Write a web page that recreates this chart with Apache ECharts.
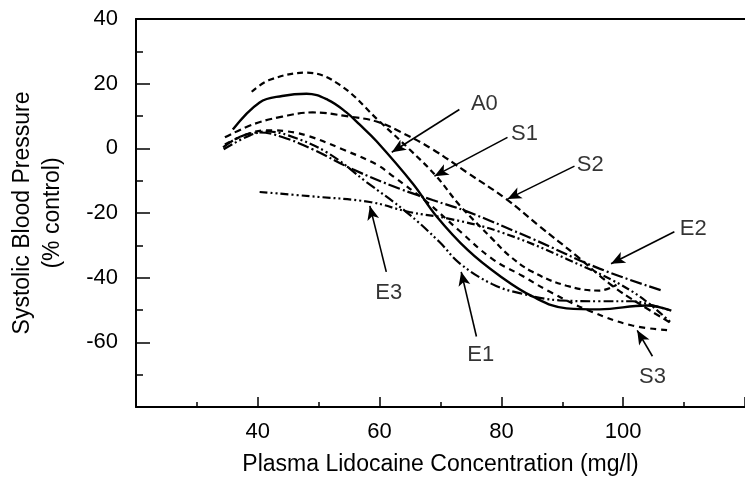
<!DOCTYPE html>
<html><head><meta charset="utf-8">
<script src="https://cdn.jsdelivr.net/npm/echarts@6/dist/echarts.min.js"></script>
<style>html,body{margin:0;padding:0;background:#fff}#c{width:745px;height:481px}</style>
</head><body><div id="c"></div>
<script>
// Curves: [plasma lidocaine mg/l, systolic BP % control]
const A0 = [[35.9,5.8],[40.3,14.2],[44,16.2],[48,16.9],[51.5,15],[54.5,11.2],[56.7,7.4],[59.5,2.2],[65.5,-11],[69.3,-20.9],[74.5,-31.5],[79.7,-39.4],[85.1,-45.8],[90.7,-49.5],[96.1,-49.8],[103.8,-48.6],[107.9,-50.2]];
const S1 = [[39.0,17.5],[42.0,21.2],[48,23.4],[53.4,19.7],[60,8.3],[64.9,-0.3],[69.3,-8.6],[73.1,-17.5],[78.5,-28],[81.3,-33.2],[85.1,-38.2],[90.7,-42.5],[96.1,-44],[98.9,-42.2]];
const S2 = [[34.6,3.4],[39.2,7.4],[44,9.8],[49,11.1],[55.1,9.8],[59.5,8.3],[63.3,5.2],[68.7,-0.3],[74.3,-7.4],[80.8,-15.7],[86.2,-24],[92.3,-33.2],[98.2,-42.5],[103,-48.5],[108,-54.2]];
const S3 = [[34.6,1.2],[38,4.2],[41.5,5.6],[45,5.2],[48.5,3.7],[53.9,-0.3],[59.5,-5],[62.1,-8.5],[67.7,-16.5],[73.1,-25.5],[78.5,-34.2],[83.4,-39.4],[87.9,-44.3],[94.4,-50.2],[101.5,-54.8],[107.9,-56.3]];
const E1 = [[34.4,-0.3],[38.7,4],[41.5,5.2],[45,4],[51.3,-1.2],[57.9,-10.5],[64.4,-19.7],[69.8,-28.9],[73.1,-35.5],[78.5,-42],[83,-44.8],[89.5,-47],[96.1,-47.3],[101.5,-47.3],[104.3,-48.3],[107.9,-50.2]];
const E2 = [[34.3,0.3],[37,3.5],[40.3,4.9],[44,3.5],[49,-0.3],[55.6,-6.5],[63.3,-12.5],[68.7,-16],[74.3,-19.5],[85.1,-28],[96.1,-37.2],[106.4,-44]];
const E3 = [[40.3,-13.5],[48.5,-14.8],[58.4,-16.6],[64.9,-19.7],[71.5,-21.8],[79.7,-25.8],[90.7,-34.2],[101.5,-44.3],[108,-54.2]];

// Annotation labels and arrows (data units)
const labelNames = ['A0','S1','S2','E2','E3','E1','S3'];
const labelPos = [[77.2,13.8],[83.8,4.3],[94.6,-5.2],[111.5,-24.9],[61.5,-44.6],[76.6,-64],[104.8,-70.8]];
const arrowFrom = [[73.1,12.0],[81.0,3.4],[92.0,-5.5],[108.4,-25.8],[61.1,-38.2],[75.9,-58.2],[104.8,-64.3]];
const arrowTo = [[62.0,-1.2],[69.0,-8.6],[81.0,-15.7],[98.0,-35.7],[58.4,-17.8],[73.4,-38.2],[102.3,-56.3]];

const xTitle = 'Plasma Lidocaine Concentration (mg/l)';
const yTitle = 'Systolic Blood Pressure\n(% control)';

const font = "'Liberation Sans', Arial, Helvetica, sans-serif";
const chart = echarts.init(document.getElementById('c'), null, {renderer:'canvas'});

function curve(name, data, dash, w) {
  return {name, type:'line', data, smooth:0.4, symbol:'none', silent:true,
    lineStyle:{color:'#000', width:w||2.2, type:dash}, z:3};
}

const tickStyle = {color:'#000', width:1.5};
chart.setOption({
  animation:false,
  backgroundColor:'#fff',
  grid:{left:136, top:19, width:610, height:389, containLabel:false},
  xAxis:[{
    type:'value', min:20, max:120, interval:20, position:'bottom',
    axisLine:{onZero:false, lineStyle:{color:'#000', width:2}},
    axisTick:{inside:true, length:10, lineStyle:tickStyle},
    minorTick:{show:true, splitNumber:2, length:5, lineStyle:tickStyle},
    splitLine:{show:false}, minorSplitLine:{show:false},
    axisLabel:{color:'#000', fontSize:22, fontFamily:font, margin:14, showMinLabel:false, showMaxLabel:false},
    name:xTitle, nameLocation:'middle', nameGap:46,
    nameTextStyle:{color:'#000', fontSize:23, fontFamily:font}
  },{
    type:'value', min:20, max:120, position:'top',
    axisLine:{show:true, onZero:false, lineStyle:{color:'#000', width:2}},
    axisTick:{show:false}, axisLabel:{show:false}, splitLine:{show:false}
  }],
  yAxis:{
    type:'value', min:-80, max:40, interval:20,
    axisLine:{show:true, onZero:false, lineStyle:{color:'#000', width:2}},
    axisTick:{show:true, inside:true, length:14, lineStyle:tickStyle},
    minorTick:{show:true, splitNumber:2, length:7, lineStyle:tickStyle},
    splitLine:{show:false}, minorSplitLine:{show:false},
    axisLabel:{color:'#000', fontSize:22, fontFamily:font, margin:18, showMinLabel:false},
    name:yTitle, nameLocation:'middle', nameRotate:90, nameGap:68,
    nameTextStyle:{color:'#000', fontSize:23, fontFamily:font, lineHeight:30}
  },
  series:[
    curve('A0', A0, 'solid', 2.4),
    curve('S1', S1, [6,4]),
    curve('S2', S2, [7,4]),
    curve('S3', S3, [6,5]),
    curve('E1', E1, [10,3,2,3,2,3]),
    curve('E2', E2, [12,3,2,3]),
    curve('E3', E3, [8,3,2,3,2,3]),
    {
      type:'scatter', silent:true, symbolSize:1, itemStyle:{color:'rgba(0,0,0,0)'},
      data: labelNames.map((n,i)=>({name:n, value:labelPos[i]})),
      label:{show:true, position:'inside', formatter:'{b}', color:'#000', fontSize:22, fontFamily:font},
      markLine:{
        silent:true, symbol:['none','arrow'], symbolSize:[9,14],
        lineStyle:{color:'#000', width:1.6, type:'solid'}, label:{show:false},
        data: arrowFrom.map((f,i)=>[{coord:f},{coord:arrowTo[i]}])
      }
    }
  ]
});
</script></body></html>
